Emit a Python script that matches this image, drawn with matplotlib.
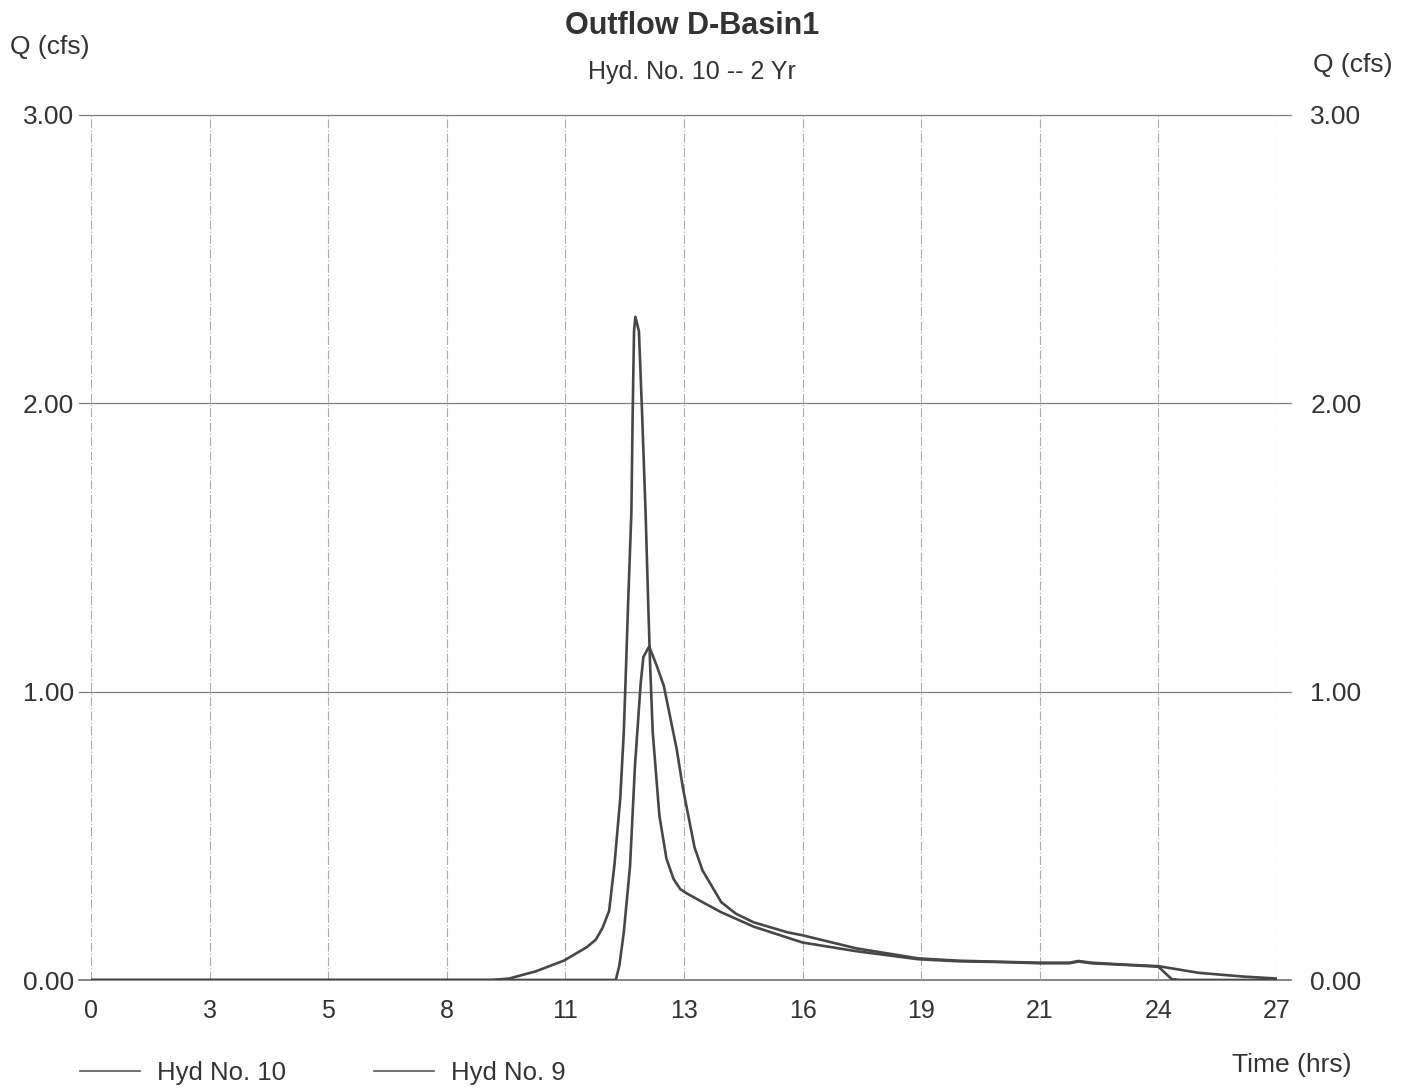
import matplotlib
matplotlib.use("Agg")
import matplotlib.pyplot as plt
from matplotlib.lines import Line2D

# =====================================================================
# 1. HYDROGRAPH DATA (time in hrs, flow in cfs)
# =====================================================================
# Hyd No. 9 - inflow to the basin
time_9 = [0.0, 9.0, 9.4, 10.0, 10.63, 11.15, 11.35, 11.5, 11.65, 11.77, 11.90,
          11.98, 12.02, 12.08, 12.15, 12.18, 12.21, 12.24, 12.32, 12.39,
          12.47, 12.53, 12.57, 12.63, 12.78, 12.94, 13.1, 13.25, 13.40, 13.75,
          14.17, 14.9, 16.0, 17.2, 18.6, 19.5, 20.5, 21.33, 22.0, 22.2, 22.5,
          23.3, 24.0, 24.3, 24.5, 26.67]
flow_9 = [0.0, 0.0, 0.005, 0.03, 0.067, 0.114, 0.14, 0.18, 0.24, 0.40, 0.63,
          0.86, 1.04, 1.32, 1.62, 1.97, 2.25, 2.30, 2.25, 1.97,
          1.62, 1.30, 1.10, 0.86, 0.57, 0.42, 0.35, 0.315, 0.30, 0.27,
          0.235, 0.185, 0.13, 0.10, 0.072, 0.065, 0.062, 0.058, 0.058, 0.064, 0.058,
          0.052, 0.046, 0.003, 0.0, 0.0]

# Hyd No. 10 - outflow from D-Basin1
time_10 = [0.0, 11.80, 11.88, 11.98, 12.05, 12.12, 12.23, 12.36, 12.42, 12.55,
           12.72, 12.88, 13.17, 13.31, 13.57, 13.75, 13.98, 14.17, 14.5, 14.9,
           15.67, 16.0, 17.2, 18.6, 19.5, 20.5, 21.33, 22.0, 22.2, 22.5, 23.3,
           24.0, 24.9, 25.9, 26.67]
flow_10 = [0.0, 0.0, 0.05, 0.165, 0.28, 0.395, 0.74, 1.03, 1.12, 1.157,
           1.09, 1.02, 0.80, 0.665, 0.46, 0.38, 0.32, 0.27, 0.23, 0.20,
           0.165, 0.155, 0.11, 0.075, 0.067, 0.063, 0.06, 0.06, 0.066, 0.06, 0.053,
           0.048, 0.025, 0.012, 0.005]

# grid every 1/10 of the 26.67 hr span, labels rounded to whole hours
x_ticks = [0.0, 2.667, 5.333, 8.0, 10.667, 13.333, 16.0, 18.667, 21.333, 24.0, 26.667]
x_labels = ["0", "3", "5", "8", "11", "13", "16", "19", "21", "24", "27"]
y_ticks = [0.0, 1.0, 2.0, 3.0]
y_labels = ["0.00", "1.00", "2.00", "3.00"]

# =====================================================================
# 2. FIGURE SETUP
# =====================================================================
plt.rcParams['font.family'] = ['Liberation Sans', 'DejaVu Sans']

W, H = 1414, 1091
fig = plt.figure(figsize=(W / 100, H / 100), dpi=100)
ax = fig.add_axes([91 / W, 1 - 980 / H, 1186 / W, 865 / H])

line_col = '#474747'
ax.plot(time_10, flow_10, color=line_col, lw=1.9, zorder=3, solid_joinstyle='round')
ax.plot(time_9, flow_9, color=line_col, lw=1.9, zorder=3, solid_joinstyle='round')

ax.set_xlim(0, x_ticks[-1])
ax.set_ylim(0, 3.0)

# grid: solid horizontals running a little past the frame, dashed verticals
for yv in y_ticks:
    ax.axhline(yv, xmin=-0.01, xmax=1.012, color='#666666' if yv == 0 else '#808080',
               lw=1.1 if yv == 0 else 0.9, clip_on=False, zorder=1)
for xv in x_ticks:
    ax.axvline(xv, color='#ababab', lw=0.8, ls=(0, (8, 2, 1, 2)), zorder=1)

for s in ax.spines.values():
    s.set_visible(False)

ax.set_xticks(x_ticks)
ax.set_xticklabels(x_labels)
ax.set_yticks(y_ticks)
ax.set_yticklabels(y_labels)
ax.tick_params(axis='x', length=0, pad=14, labelsize=18, labelcolor='#333333')
ax.tick_params(axis='y', length=0, pad=12, labelsize=19, labelcolor='#333333')

ax2 = ax.twinx()
ax2.set_ylim(0, 3.0)
ax2.set_yticks(y_ticks)
ax2.set_yticklabels(y_labels)
ax2.tick_params(axis='y', length=0, pad=24, labelsize=19, labelcolor='#333333')
for s in ax2.spines.values():
    s.set_visible(False)

# =====================================================================
# 3. TITLES, AXIS NAMES, LEGEND
# =====================================================================
txt = '#333333'
fig.text(692 / W, 1 - 26 / H, "Outflow D-Basin1", ha='center', va='center',
         fontsize=22, fontweight='bold', color=txt)
fig.text(692 / W, 1 - 72 / H, "Hyd. No. 10 -- 2 Yr", ha='center', va='center',
         fontsize=18, color=txt)
fig.text(50 / W, 1 - 47 / H, "Q (cfs)", ha='center', va='center', fontsize=19, color=txt)
fig.text(1353 / W, 1 - 65 / H, "Q (cfs)", ha='center', va='center', fontsize=19, color=txt)
fig.text(1292 / W, 1 - 1065 / H, "Time (hrs)", ha='center', va='center', fontsize=19, color=txt)

handles = [Line2D([], [], color='#555555', lw=1.2),
           Line2D([], [], color='#555555', lw=1.2)]
fig.legend(handles, ["Hyd No. 10", "Hyd No. 9"], loc='center left',
           bbox_to_anchor=(80 / W, 1 - 1073 / H), ncol=2, frameon=False,
           fontsize=18.5, labelcolor=txt, borderaxespad=0, borderpad=0,
           handlelength=2.35, handletextpad=0.66, columnspacing=3.4)

plt.savefig('out.png', dpi=100)
